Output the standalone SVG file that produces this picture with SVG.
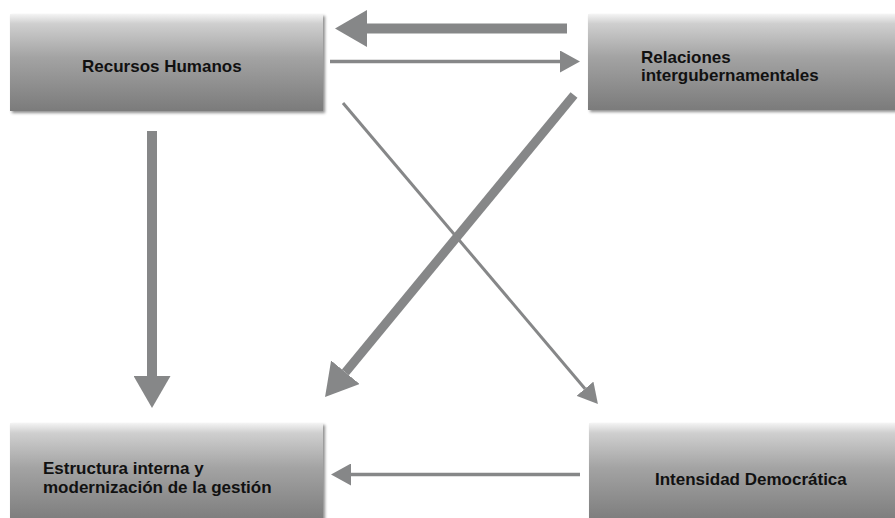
<svg xmlns="http://www.w3.org/2000/svg" width="895" height="518" viewBox="0 0 895 518">
  <defs>
    <linearGradient id="boxGrad" x1="0" y1="0" x2="0" y2="1">
      <stop offset="0" stop-color="#f4f4f4"/>
      <stop offset="0.1" stop-color="#cfcfcf"/>
      <stop offset="0.45" stop-color="#a3a3a3"/>
      <stop offset="1" stop-color="#7b7b7b"/>
    </linearGradient>
    <filter id="shadow" x="-5%" y="-10%" width="112%" height="125%">
      <feDropShadow dx="2" dy="2" stdDeviation="1.6" flood-color="#000" flood-opacity="0.45"/>
    </filter>
    <marker id="headThick" viewBox="0 0 32 37" refX="0" refY="18.5" markerWidth="32" markerHeight="37" markerUnits="userSpaceOnUse" orient="auto">
      <path d="M0,0 L32,18.5 L0,37 z" fill="#868788"/>
    </marker>
    <marker id="headThin" viewBox="0 0 20 22" refX="0" refY="11" markerWidth="20" markerHeight="22" markerUnits="userSpaceOnUse" orient="auto">
      <path d="M0,0 L20,11 L0,22 z" fill="#868788"/>
    </marker>
  </defs>
  <style>
    .box { fill: url(#boxGrad); filter: url(#shadow); }
    .label { font-family: "Liberation Sans", Arial, Helvetica, sans-serif; font-weight: bold; font-size: 17px; fill: #111111; }
    .thick { stroke: #868788; stroke-width: 10; fill: none; marker-end: url(#headThick); }
    .thin { stroke: #868788; stroke-width: 3.5; fill: none; marker-end: url(#headThin); }
  </style>
  <rect width="895" height="518" fill="#ffffff"/>

  <g id="recursos-humanos">
    <rect class="box" x="10" y="14" width="313" height="97"/>
    <text class="label" x="82" y="72">Recursos Humanos</text>
  </g>

  <g id="relaciones-intergubernamentales">
    <rect class="box" x="588" y="14" width="310" height="96"/>
    <text class="label" x="641" y="63">Relaciones</text>
    <text class="label" x="641" y="81">intergubernamentales</text>
  </g>

  <g id="estructura-interna">
    <rect class="box" x="10" y="423" width="313" height="100"/>
    <text class="label" x="43" y="474">Estructura interna y</text>
    <text class="label" x="43" y="493">modernización de la gestión</text>
  </g>

  <g id="intensidad-democratica">
    <rect class="box" x="589" y="423" width="310" height="100"/>
    <text class="label" x="655" y="485">Intensidad Democrática</text>
  </g>

  <g id="connectors">
    <line class="thick" x1="567" y1="28.5" x2="367" y2="28.5"/>
    <line class="thin" x1="330" y1="61.5" x2="560" y2="61.5"/>
    <line class="thick" x1="152" y1="131" x2="152" y2="376"/>
    <line class="thick" style="stroke-width:9" x1="574" y1="95" x2="345.4" y2="372.3"/>
    <line class="thin" style="stroke-width:3" x1="343" y1="103" x2="585" y2="388.7"/>
    <line class="thin" style="stroke-width:3.3" x1="580" y1="474.5" x2="351" y2="474.5"/>
  </g>
</svg>
